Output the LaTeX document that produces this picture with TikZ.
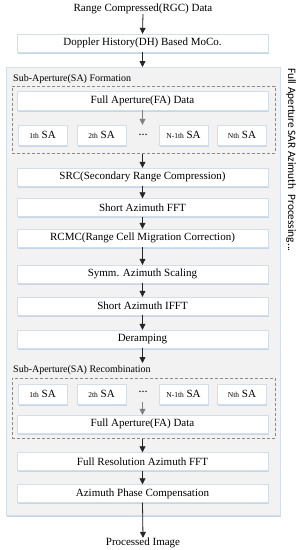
\documentclass[tikz,border=0pt]{standalone}
\usepackage{fontspec}
\setmainfont{Liberation Serif}
\newfontfamily\sansf{Carlito}
\usetikzlibrary{shadows,arrows.meta}
\definecolor{boxline}{HTML}{D5DDE6}
\definecolor{shadowblue}{HTML}{C4D6EA}
\definecolor{outerfill}{HTML}{F2F2F2}
\definecolor{dashgray}{HTML}{8A8A8A}
\newcommand{\smallth}[1]{{\fontsize{7.5}{8}\selectfont #1}}
\tikzset{
  procbox/.style={draw=boxline, fill=white, minimum width=251pt, minimum height=18pt,
    inner sep=0pt, font=\fontsize{11}{12}\selectfont,
    general shadow={fill=shadowblue, shadow xshift=0.6pt, shadow yshift=-1.6pt}},
  sabox/.style={procbox, minimum width=49pt, minimum height=20pt},
  flow/.style={-{Triangle[length=6pt,width=6pt]}, line width=0.8pt, draw=black!85, fill=black!85},
  gflow/.style={-{Triangle[length=6pt,width=6pt]}, line width=0.8pt, draw=gray, fill=gray},
  grouplabel/.style={anchor=west, inner sep=0pt, font=\fontsize{10}{12}\selectfont},
  dashbox/.style={draw=dashgray, dash pattern=on 3pt off 2pt, line width=0.6pt, inner sep=0pt, anchor=north west},
  plain/.style={inner sep=0pt, font=\fontsize{11}{12}\selectfont}
}
\begin{document}
\begin{tikzpicture}[x=1pt,y=-1pt]
\useasboundingbox (0,0) rectangle (300,550);
% outer box
\node[draw=boxline, fill=outerfill, minimum width=274pt, minimum height=448pt, inner sep=0pt, anchor=north west,
  general shadow={fill=shadowblue, shadow xshift=0.6pt, shadow yshift=-1.6pt}] (outer) at (6,67) {};
\node[rotate=-90, anchor=west, inner sep=0pt, font=\sansf\fontsize{11.3}{12}\selectfont] (vlab) at (291,68) {Full Aperture SAR Azimuth\ \ Processing...};

\node[plain] (rgc) at (143,9) {Range Compressed(RGC) Data};
\node[procbox] (dh) at (142.5,43) {Doppler History(DH) Based MoCo.};

% formation
\node[grouplabel] (lab1) at (13,79) {Sub-Aperture(SA) Formation};
\node[dashbox, minimum width=263pt, minimum height=67pt] (dash1) at (12,86) {};
\node[procbox, minimum height=19pt] (fa1) at (142.5,100.5) {Full Aperture(FA) Data};
\node[sabox] (s11) at (42.5,135) {\smallth{1th} SA};
\node[sabox] (s12) at (101.5,135) {\smallth{2th} SA};
\node[inner sep=0pt, minimum height=20pt, font=\fontsize{9}{10}\selectfont\bfseries] (dots1) at (143,135) {\ldots};
\node[sabox] (s13) at (183.5,135) {\smallth{N-1th} SA};
\node[sabox] (s14) at (242,135) {\smallth{Nth} SA};

\node[procbox] (src) at (142.5,177) {SRC(Secondary Range Compression)};
\node[procbox] (saf) at (142.5,207.5) {Short Azimuth FFT};
\node[procbox] (rcmc) at (142.5,238) {RCMC(Range Cell Migration Correction)};
\node[procbox] (symm) at (142.5,274) {Symm. Azimuth Scaling};
\node[procbox] (ifft) at (142.5,306) {Short Azimuth IFFT};
\node[procbox] (der) at (142.5,339) {Deramping};
\coordinate (derend) at (142.5,363);

% recombination
\node[grouplabel] (lab2) at (13,370) {Sub-Aperture(SA) Recombination};
\node[dashbox, minimum width=263pt, minimum height=60pt] (dash2) at (12,378) {};
\node[sabox] (s21) at (42.5,394) {\smallth{1th} SA};
\node[sabox] (s22) at (101.5,394) {\smallth{2th} SA};
\node[inner sep=0pt, minimum height=20pt, font=\fontsize{9}{10}\selectfont\bfseries] (dots2) at (143,392) {\ldots};
\node[sabox] (s23) at (183.5,394) {\smallth{N-1th} SA};
\node[sabox] (s24) at (242,394) {\smallth{Nth} SA};
\node[procbox] (fa2) at (142.5,424) {Full Aperture(FA) Data};

\node[procbox] (frfft) at (142.5,461.5) {Full Resolution Azimuth FFT};
\node[procbox] (apc) at (142.5,493.5) {Azimuth Phase Compensation};
\node[plain] (out) at (143,543) {Processed Image};

% connectors
\draw[flow] (rgc.south) -- (dh.north);
\draw[flow] (dh.south) -- (dh.south |- outer.north);
\draw[gflow] (fa1.south) -- (fa1.south |- dots1.north);
\draw[flow] (dh.south |- dash1.south) -- (src.north);
\draw[flow] (src) -- (saf);
\draw[flow] (saf) -- (rcmc);
\draw[flow] (rcmc) -- (symm);
\draw[flow] (symm) -- (ifft);
\draw[flow] (ifft) -- (der);
\draw[flow] (der.south) -- (derend);
\draw[gflow] (fa2.north |- dots2.south) -- (fa2.north);
\draw[flow] (fa2.south |- dash2.south) -- (frfft.north);
\draw[flow] (frfft) -- (apc);
\draw[flow] (apc.south) -- (out.north);
\end{tikzpicture}
\end{document}
